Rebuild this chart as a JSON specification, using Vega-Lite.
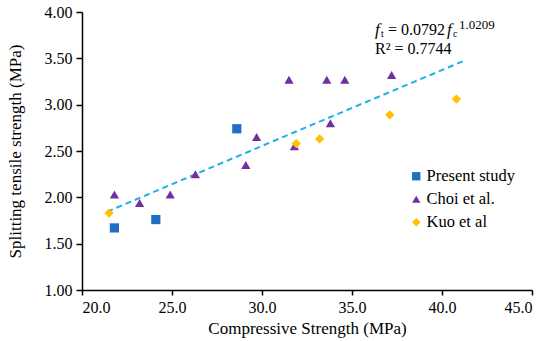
{
  "$schema": "https://vega.github.io/schema/vega-lite/v6.json",
  "width": 450,
  "height": 278,
  "autosize": {"type": "none"},
  "padding": {"left": 82, "top": 12, "right": 18, "bottom": 51},
  "view": {"stroke": null},
  "datasets": {
    "points": [
      {"series": "Present study", "fc": 28.6, "ft": 2.74},
      {"series": "Present study", "fc": 21.8, "ft": 1.67},
      {"series": "Present study", "fc": 24.1, "ft": 1.76},
      {"series": "Choi et al.", "fc": 29.7, "ft": 2.65},
      {"series": "Choi et al.", "fc": 29.1, "ft": 2.35},
      {"series": "Choi et al.", "fc": 21.8, "ft": 2.03},
      {"series": "Choi et al.", "fc": 23.2, "ft": 1.94},
      {"series": "Choi et al.", "fc": 24.9, "ft": 2.03},
      {"series": "Choi et al.", "fc": 26.3, "ft": 2.25},
      {"series": "Choi et al.", "fc": 31.5, "ft": 3.27},
      {"series": "Choi et al.", "fc": 33.6, "ft": 3.27},
      {"series": "Choi et al.", "fc": 34.6, "ft": 3.27},
      {"series": "Choi et al.", "fc": 37.2, "ft": 3.32},
      {"series": "Choi et al.", "fc": 33.8, "ft": 2.8},
      {"series": "Choi et al.", "fc": 31.8, "ft": 2.55},
      {"series": "Kuo et al", "fc": 21.5, "ft": 1.83},
      {"series": "Kuo et al", "fc": 31.9, "ft": 2.58},
      {"series": "Kuo et al", "fc": 33.2, "ft": 2.63},
      {"series": "Kuo et al", "fc": 37.1, "ft": 2.89},
      {"series": "Kuo et al", "fc": 40.8, "ft": 3.06}
    ],
    "trend": [
      {"fc": 21.4, "ft": 1.845},
      {"fc": 31.0, "ft": 2.637},
      {"fc": 41.3, "ft": 3.48}
    ],
    "eq": [{"fc": 36.28, "ft": 3.752}],
    "r2": [{"fc": 36.28, "ft": 3.55, "label": "R² = 0.7744"}]
  },
  "layer": [
    {
      "data": {"name": "trend"},
      "mark": {"type": "line", "color": "#1cb0e8", "strokeDash": [6, 4], "strokeWidth": 2},
      "encoding": {
        "x": {"field": "fc", "type": "quantitative", "scale": {"domain": [20, 45], "nice": false, "zero": false},
          "axis": {"values": [20, 25, 30, 35, 40, 45], "format": ".1f", "title": "Compressive Strength (MPa)", "titlePadding": 5,
            "grid": false, "domainColor": "#000000", "domainWidth": 1.5, "tickColor": "#000000", "tickWidth": 1.5, "tickSize": 5,
            "labelColor": "#000000", "titleColor": "#000000", "labelFont": "Liberation Serif", "titleFont": "Liberation Serif",
            "labelFontSize": 16, "titleFontSize": 17, "titleFontWeight": "normal", "labelPadding": 4}},
        "y": {"field": "ft", "type": "quantitative", "scale": {"domain": [1, 4], "nice": false, "zero": false},
          "axis": {"values": [1, 1.5, 2, 2.5, 3, 3.5, 4], "format": ".2f", "title": "Splitting tensile strength (MPa)", "titlePadding": 20,
            "grid": false, "domainColor": "#000000", "domainWidth": 1.5, "tickColor": "#000000", "tickWidth": 1.5, "tickSize": 6,
            "labelColor": "#000000", "titleColor": "#000000", "labelFont": "Liberation Serif", "titleFont": "Liberation Serif",
            "labelFontSize": 16, "titleFontSize": 17, "titleFontWeight": "normal", "labelPadding": 4}}
      }
    },
    {
      "data": {"name": "points"},
      "mark": {"type": "point", "filled": true, "opacity": 1, "size": 85},
      "encoding": {
        "x": {"field": "fc", "type": "quantitative"},
        "y": {"field": "ft", "type": "quantitative"},
        "shape": {"field": "series", "type": "nominal",
          "scale": {"domain": ["Present study", "Choi et al.", "Kuo et al"], "range": ["square", "triangle-up", "diamond"]},
          "legend": {"title": null, "orient": "none", "legendX": 326, "legendY": 156, "symbolSize": 70, "rowPadding": 6, "labelOffset": 2,
            "labelFont": "Liberation Serif", "labelFontSize": 16.5, "labelColor": "#000000"}},
        "color": {"field": "series", "type": "nominal",
          "scale": {"domain": ["Present study", "Choi et al.", "Kuo et al"], "range": ["#1f6fc5", "#7030a0", "#ffc000"]},
          "legend": {"title": null, "orient": "none", "legendX": 326, "legendY": 156, "symbolSize": 70, "rowPadding": 6, "labelOffset": 2,
            "labelFont": "Liberation Serif", "labelFontSize": 16.5, "labelColor": "#000000"}}
      }
    },
    {
      "data": {"name": "eq"},
      "mark": {"type": "text", "text": "f", "font": "Liberation Serif", "fontStyle": "italic", "fontSize": 17, "align": "left", "baseline": "alphabetic", "color": "#000000"},
      "encoding": {"x": {"field": "fc", "type": "quantitative"}, "y": {"field": "ft", "type": "quantitative"}}
    },
    {
      "data": {"name": "eq"},
      "mark": {"type": "text", "text": "t", "font": "Liberation Serif", "fontSize": 10, "align": "left", "baseline": "alphabetic", "dx": 6, "dy": 2, "color": "#000000"},
      "encoding": {"x": {"field": "fc", "type": "quantitative"}, "y": {"field": "ft", "type": "quantitative"}}
    },
    {
      "data": {"name": "eq"},
      "mark": {"type": "text", "text": "= 0.0792", "font": "Liberation Serif", "fontSize": 16, "align": "left", "baseline": "alphabetic", "dx": 13, "color": "#000000"},
      "encoding": {"x": {"field": "fc", "type": "quantitative"}, "y": {"field": "ft", "type": "quantitative"}}
    },
    {
      "data": {"name": "eq"},
      "mark": {"type": "text", "text": "f", "font": "Liberation Serif", "fontStyle": "italic", "fontSize": 17, "align": "left", "baseline": "alphabetic", "dx": 72, "color": "#000000"},
      "encoding": {"x": {"field": "fc", "type": "quantitative"}, "y": {"field": "ft", "type": "quantitative"}}
    },
    {
      "data": {"name": "eq"},
      "mark": {"type": "text", "text": "c", "font": "Liberation Serif", "fontSize": 10, "align": "left", "baseline": "alphabetic", "dx": 78, "dy": 2, "color": "#000000"},
      "encoding": {"x": {"field": "fc", "type": "quantitative"}, "y": {"field": "ft", "type": "quantitative"}}
    },
    {
      "data": {"name": "eq"},
      "mark": {"type": "text", "text": "1.0209", "font": "Liberation Serif", "fontSize": 13, "align": "left", "baseline": "alphabetic", "dx": 84, "dy": -6, "color": "#000000"},
      "encoding": {"x": {"field": "fc", "type": "quantitative"}, "y": {"field": "ft", "type": "quantitative"}}
    },
    {
      "data": {"name": "r2"},
      "mark": {"type": "text", "font": "Liberation Serif", "fontSize": 16, "align": "left", "baseline": "alphabetic", "color": "#000000"},
      "encoding": {"x": {"field": "fc", "type": "quantitative"}, "y": {"field": "ft", "type": "quantitative"}, "text": {"field": "label"}}
    }
  ]
}
